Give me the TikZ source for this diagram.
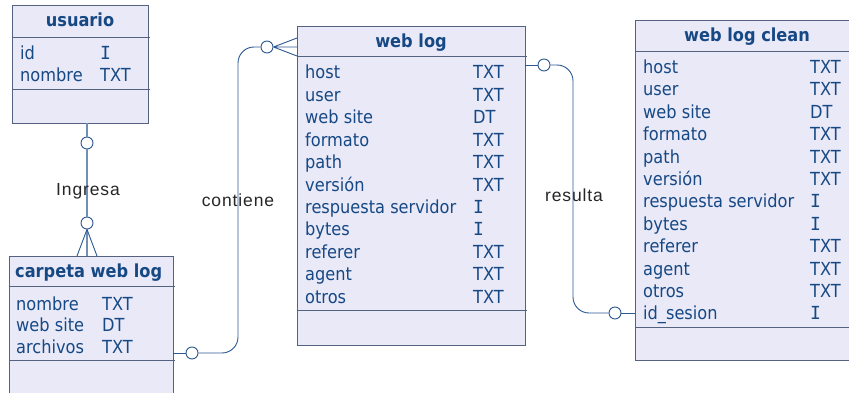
\documentclass[tikz,border=0pt]{standalone}
\usepackage{fontspec}
\setmainfont{DejaVu Sans}[FakeStretch=0.9]
\newfontfamily\labelfont{Liberation Sans}[LetterSpace=5]
\newfontfamily\slabI{DejaVu Sans Mono}
\newcommand{\typeI}{{\slabI I}}
\definecolor{boxfill}{RGB}{233,233,248}
\definecolor{boxline}{RGB}{84,98,128}
\definecolor{txtblue}{RGB}{22,72,132}
\definecolor{connblue}{RGB}{44,88,146}
\definecolor{connlight}{RGB}{112,142,182}
\tikzset{
  entbox/.style={draw=boxline, fill=boxfill, line width=0.9pt, anchor=north west, inner sep=0pt},
  sepline/.style={draw=boxline, line width=0.9pt},
  attr/.style={text=txtblue, anchor=base west, inner sep=0pt, font=\fontsize{18}{20}\selectfont},
  ttl/.style={text=txtblue, inner sep=0pt, font=\fontsize{18}{20}\selectfont\bfseries},
  rel/.style={text=black!85, anchor=base, inner sep=0pt, font=\labelfont\fontsize{17.5}{20}\selectfont},
  conn/.style={draw=connblue, line width=0.9pt},
  connl/.style={draw=connlight, line width=1.3pt},
  opt/.style={circle, draw=connblue, fill=white, line width=0.9pt, minimum size=12pt, inner sep=0pt}
}
\begin{document}
\begin{tikzpicture}[x=1pt,y=-1pt]
\useasboundingbox (0,0) rectangle (849,393);
\clip (0,0) rectangle (849,393);

% usuario
\node[entbox, minimum width=136pt, minimum height=118pt] (usuario) at (12,5) {};
\draw[sepline] (12,37) -- (150,37) (12,89) -- (150,89);
\node[ttl, anchor=base] (us-t) at (80,27) {usuario};
\node[attr] (us-n1) at (20,60) {id};
\node[attr] (us-t1) at (100,60) {\typeI};
\node[attr] (us-n2) at (20,82) {nombre};
\node[attr] (us-t2) at (100,82) {TXT};

% carpeta web log
\node[entbox, minimum width=164pt, minimum height=150pt] (carpeta) at (9,256) {};
\draw[sepline] (9,286) -- (175,286) (9,360) -- (175,360);
\node[ttl, anchor=base west] (cw-t) at (15,277) {carpeta web log};
\foreach \n/\t [count=\i] in {nombre/TXT, web site/DT, archivos/TXT}{
  \node[attr] (cw-n\i) at (16,{310+(\i-1)*21.6}) {\n};
  \node[attr] (cw-t\i) at (102,{310+(\i-1)*21.6}) {\t};
}

% web log
\node[entbox, minimum width=228pt, minimum height=319pt] (weblog) at (297,26) {};
\draw[sepline] (297,56) -- (527,56) (297,310) -- (527,310);
\node[ttl, anchor=base] (wl-t) at (411,48) {web log};
\foreach \n/\t [count=\i] in {host/TXT, user/TXT, web site/DT, formato/TXT, path/TXT,
    versión/TXT, respuesta servidor/\typeI, bytes/\typeI, referer/TXT, agent/TXT, otros/TXT}{
  \node[attr] (wl-n\i) at (305,{79+(\i-1)*22.4}) {\n};
  \node[attr] (wl-t\i) at (473,{79+(\i-1)*22.4}) {\t};
}

% web log clean
\node[entbox, minimum width=230pt, minimum height=340pt] (clean) at (635,20) {};
\draw[sepline] (635,51) -- (860,51) (635,327) -- (860,327);
\node[ttl, anchor=base] (wc-t) at (747,42) {web log clean};
\foreach \n/\t [count=\i] in {host/TXT, user/TXT, web site/DT, formato/TXT, path/TXT,
    versión/TXT, respuesta servidor/\typeI, bytes/\typeI, referer/TXT, agent/TXT, otros/TXT, id\_sesion/\typeI}{
  \node[attr] (wc-n\i) at (643,{73.5+(\i-1)*22.4}) {\n};
  \node[attr] (wc-t\i) at (810,{73.5+(\i-1)*22.4}) {\t};
}

% relationship: Ingresa
\coordinate (us-out) at (87,123);
\coordinate (cw-in) at (87,256);
\coordinate (cw-inl) at (77,256);
\coordinate (cw-inr) at (97,256);
\node[opt] (ing1) at (87,143) {};
\node[opt] (ing2) at (87,223) {};
\draw[connl] (us-out) -- (ing1) -- (ing2) -- (cw-in);
\draw[conn] (ing2.south) -- (cw-inl) (ing2.south) -- (cw-inr);
\node[rel] (ing-l) at (88,195) {Ingresa};

% relationship: contiene
\coordinate (cw-out) at (173,353);
\coordinate (wl-in) at (297,47);
\coordinate (wl-inu) at (297,38);
\coordinate (wl-ind) at (297,56);
\node[opt] (con1) at (192,353) {};
\node[opt] (con2) at (267,47) {};
\draw[conn] (cw-out) -- (con1);
\draw[conn, rounded corners=16pt] (con1) -- (238,353) -- (238,47) -- (con2);
\draw[conn] (con2.east) -- (wl-in) (con2.east) -- (wl-inu) (con2.east) -- (wl-ind);
\node[rel] (con-l) at (238,206.5) {contiene};

% relationship: resulta
\coordinate (wl-out) at (525,65);
\coordinate (wc-in) at (635,313);
\node[opt] (res1) at (544,65) {};
\node[opt] (res2) at (615,313) {};
\draw[conn] (wl-out) -- (res1);
\draw[conn, rounded corners=16pt] (res1) -- (573,65) -- (573,313) -- (res2);
\draw[conn] (res2) -- (wc-in);
\node[rel] (res-l) at (574,201.5) {resulta};
\end{tikzpicture}
\end{document}
